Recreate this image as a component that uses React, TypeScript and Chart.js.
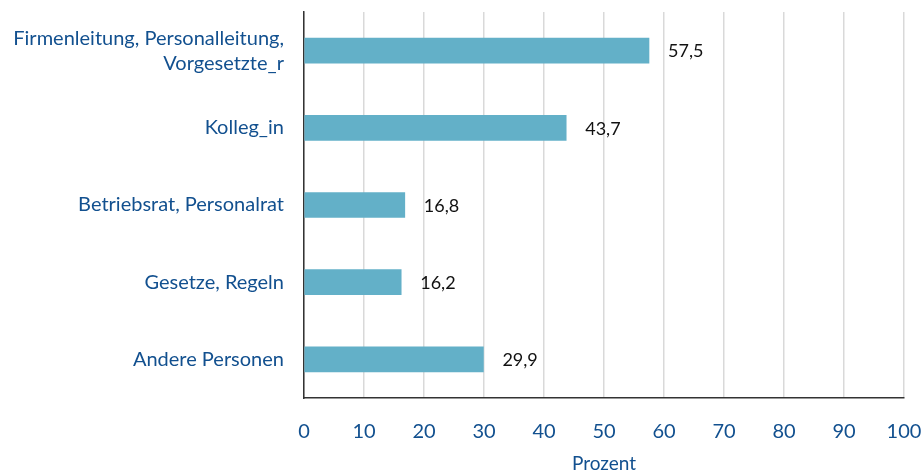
import React, { useEffect, useRef } from "react";
import { Chart, registerables } from "chart.js";

Chart.register(...registerables);

const categories: (string | string[])[] = [
  ["Firmenleitung, Personalleitung,", "Vorgesetzte_r"],
  "Kolleg_in",
  "Betriebsrat, Personalrat",
  "Gesetze, Regeln",
  "Andere Personen",
];
const values: number[] = [57.5, 43.7, 16.8, 16.2, 29.9];
const xMin = 0;
const xMax = 100;
const xStep = 10;
const axisTitle = "Prozent";

const BLUE = "#12508f";
const BAR = "#63b0c8";
const FONT = "Lato, 'Open Sans', sans-serif";

const valueLabels = {
  id: "valueLabels",
  afterDatasetsDraw(chart: any) {
    const ctx = chart.ctx;
    const meta = chart.getDatasetMeta(0);
    ctx.save();
    ctx.font = `18px ${FONT}`;
    ctx.fillStyle = "#111111";
    ctx.textAlign = "left";
    ctx.textBaseline = "middle";
    meta.data.forEach((el: any, i: number) => {
      const v = values[i];
      ctx.fillText(v.toFixed(1).replace(".", ","), el.x + 19, el.y + 1);
    });
    ctx.restore();
  },
};

export default function App() {
  const ref = useRef<HTMLCanvasElement>(null);
  useEffect(() => {
    document.body.style.margin = "0";
    const chart = new Chart(ref.current!, {
      type: "bar",
      data: {
        labels: categories,
        datasets: [
          {
            data: values,
            backgroundColor: BAR,
            barThickness: 25,
          },
        ],
      },
      plugins: [valueLabels],
      options: {
        indexAxis: "y",
        animation: false,
        responsive: false,
        layout: { padding: { top: 12, right: 19, left: 0, bottom: 0 } },
        plugins: { legend: { display: false }, tooltip: { enabled: false } },
        scales: {
          x: {
            min: xMin,
            max: xMax,
            ticks: {
              stepSize: xStep,
              color: BLUE,
              font: { family: FONT, size: 20 },
              padding: 22,
            },
            grid: { color: "#d9d9d9", lineWidth: 1.5, drawTicks: false },
            border: { display: true, color: "#333333", width: 1.5 },
            title: {
              display: true,
              text: axisTitle,
              color: BLUE,
              font: { family: FONT, size: 19 },
              padding: { top: 4, bottom: 0 },
            },
            afterFit(scale: any) {
              scale.height = 77;
              scale.paddingLeft = 0;
              scale.paddingRight = 0;
            },
          },
          y: {
            ticks: {
              color: BLUE,
              font: { family: FONT, size: 20, lineHeight: 1.25 },
              padding: 20,
            },
            grid: { display: false, drawTicks: false },
            border: { display: true, color: "#333333", width: 1.5 },
            afterFit(scale: any) {
              scale.width = 304;
              scale.paddingTop = 0;
              scale.paddingBottom = 0;
            },
          },
        },
      },
    });
    return () => chart.destroy();
  }, []);
  return (
    <div style={{ width: 923, height: 475 }}>
      <canvas ref={ref} width={923} height={475} />
    </div>
  );
}
